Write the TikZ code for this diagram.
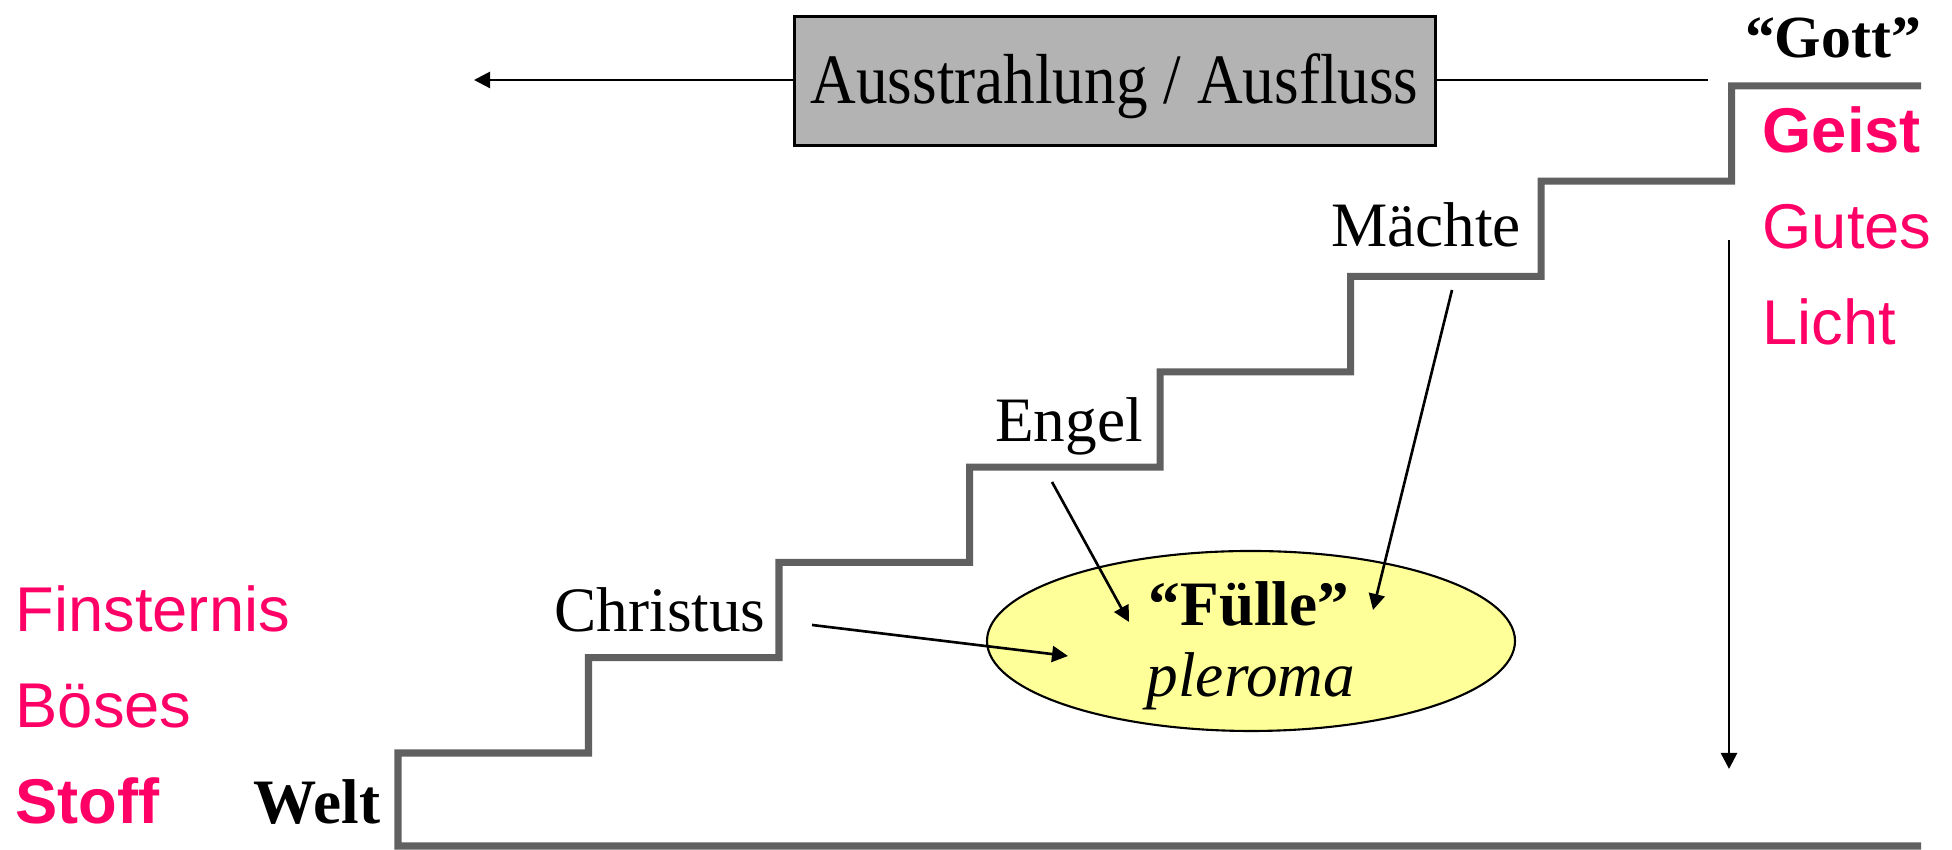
\documentclass[tikz,border=0pt]{standalone}
\usepackage{fontspec}
\setmainfont{Liberation Serif}
\setsansfont{Liberation Sans}
\usetikzlibrary{arrows.meta,shapes.geometric}
\definecolor{hotpink}{HTML}{FF0066}
\definecolor{stairgray}{HTML}{606060}
\definecolor{boxgray}{HTML}{B3B3B3}
\definecolor{paleyellow}{HTML}{FFFF99}

\begin{document}
\begin{tikzpicture}[word_node/.style={font=\fontsize{18}{20}\selectfont,inner sep=0pt,anchor=base},
    bold_node/.style={word_node,font=\bfseries\fontsize{18}{20}\selectfont},
    pink_node/.style={font=\sffamily\fontsize{18}{20}\selectfont,text=hotpink,inner sep=0pt,anchor=base west},
    arrow_line/.style={-{Triangle[length=1.6mm,width=1.6mm]},line width=0.75pt},
    stair_line/.style={draw=stairgray,line width=2pt}]

     \useasboundingbox (0,0) rectangle (19.52,8.5);

     % the stairs
     \draw[stair_line] (19.21,0.04) -- (3.98,0.04) -- (3.98,0.97)
        \foreach \i in {1,...,7} { -- ++(1.905,0) -- ++(0,0.953) } -- (19.21,7.64);

     \node[word_node,anchor=center,draw,line width=0.85pt,fill=boxgray,minimum width=6.41cm,minimum height=1.29cm,text height=0.6cm,text depth=0.16cm] (flow) at (11.145,7.685) {\scalebox{1}[1.12]{Ausstrahlung / Ausfluss}};
     \coordinate (flow_end) at (4.74,7.70);
     \coordinate (flow_start) at (17.08,7.70);
     \draw[arrow_line] (flow.west |- flow_end) -- (flow_end);
     \draw[line width=0.75pt] (flow_start) -- (flow.east |- flow_start);

     \node[bold_node,font=\bfseries\fontsize{17}{20}\selectfont] (gott) at (18.33,7.92) {“Gott”};
     \node[word_node] (christus) at (6.60,2.18) {Christus};
     \node[word_node] (engel) at (10.69,4.08) {Engel};
     \node[word_node] (maechte) at (14.26,6.03) {Mächte};
     \node[bold_node] (welt) at (3.17,0.26) {Welt};

     \node[ellipse,draw,line width=0.6pt,fill=paleyellow,minimum width=5.28cm,minimum height=1.80cm] (pleroma_ell) at (12.51,2.09) {};
     \node[bold_node] (fuelle) at (12.49,2.24) {“Fülle”};
     \node[word_node,font=\itshape\fontsize{18}{20}\selectfont] (pleroma) at (12.51,1.53) {pleroma};

     \node[pink_node,font=\sffamily\bfseries\fontsize{18}{20}\selectfont] (geist) at (17.62,6.97) {Geist};
     \node[pink_node] (gutes) at (17.62,6.01) {Gutes};
     \node[pink_node] (licht) at (17.62,5.05) {Licht};
     \node[pink_node] (finsternis) at (0.15,2.18) {Finsternis};
     \node[pink_node] (boeses) at (0.15,1.22) {Böses};
     \node[pink_node,font=\sffamily\bfseries\fontsize{18}{20}\selectfont] (stoff) at (0.15,0.26) {Stoff};

     \coordinate (christus_from) at (8.12,2.25);
     \coordinate (christus_to) at (10.68,1.94);
     \coordinate (engel_from) at (10.52,3.68);
     \coordinate (engel_to) at (11.29,2.28);
     \coordinate (maechte_from) at (14.52,5.60);
     \coordinate (maechte_to) at (13.73,2.40);
     \coordinate (down_from) at (17.29,6.10);
     \coordinate (down_to) at (17.29,0.81);

     \draw[arrow_line] (christus_from) -- (christus_to);
     \draw[arrow_line] (engel_from) -- (engel_to);
     \draw[arrow_line] (maechte_from) -- (maechte_to);
     \draw[arrow_line] (down_from) -- (down_to);
\end{tikzpicture}
\end{document}
